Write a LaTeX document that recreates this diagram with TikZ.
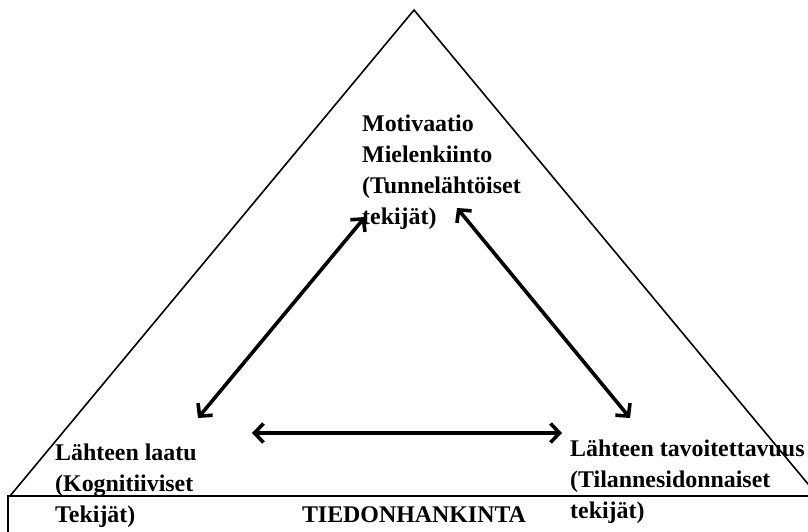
\documentclass[tikz,border=0pt]{standalone}
\usepackage{fontspec}
\setmainfont{Liberation Serif}
\usetikzlibrary{arrows.meta}

\begin{document}
\begin{tikzpicture}[x=1pt, y=1pt,
    lbl/.style={anchor=north west, inner sep=0pt, align=left, font=\fontsize{23.9}{31}\selectfont\bfseries},
    biarrow/.style={<->, line width=3.6pt},
    >={Straight Barb[length=9pt, width=19pt]}
]
\useasboundingbox (0,0) rectangle (808,531);
\clip (0,0) rectangle (808,531);
% triangle and base box
\coordinate (apex) at (414,521);
\draw[line width=1.6pt, line join=miter] (10,35) -- (apex) -- (818,35);
\draw[line width=2.4pt] (8,-10) -- (8,35) -- (830,35);
% labels
\node[lbl] (motiv) at (362,416) {Motivaatio\\Mielenkiinto\\(Tunnelähtöiset\\tekijät)};
\node[lbl] (laatu) at (55,87) {Lähteen laatu\\(Kognitiiviset\\Tekijät)};
\node[lbl] (tavoit) at (570,91) {Lähteen tavoitettavuus\\(Tilannesidonnaiset\\tekijät)};
\node[anchor=base, inner sep=0pt, font=\fontsize{23.9}{31}\selectfont\bfseries] (tiedon) at (414,9) {TIEDONHANKINTA};
% arrow ends
\coordinate (mL) at (365,314);
\coordinate (mR) at (457,323);
\coordinate (lT) at (198,113);
\coordinate (tT) at (630,113);
\coordinate (lR) at (252,98);
\coordinate (tL) at (562,98);
\draw[biarrow] (mL) -- (lT);
\draw[biarrow] (mR) -- (tT);
\draw[biarrow] (lR) -- (tL);
\end{tikzpicture}
\end{document}
